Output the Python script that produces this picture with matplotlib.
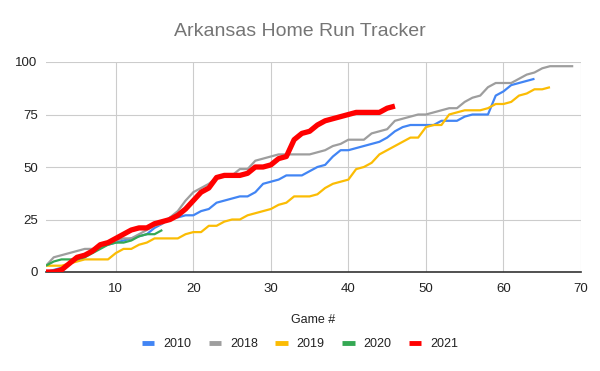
import numpy as np
import matplotlib
matplotlib.use("Agg")
import matplotlib.pyplot as plt

# Cumulative home runs by game
hr_2010 = [0, 1, 2, 4, 6, 8, 10, 12, 13, 14, 15, 16, 17, 18, 21, 23, 26, 26, 27, 27,
           29, 30, 33, 34, 35, 36, 36, 38, 42, 43, 44, 46, 46, 46, 48, 50, 51, 55, 58, 58,
           59, 60, 61, 62, 64, 67, 69, 70, 70, 70, 70, 72, 72, 72, 74, 75, 75, 75, 84, 86,
           89, 90, 91, 92]
hr_2018 = [3, 7, 8, 9, 10, 11, 11, 12, 14, 15, 16, 16, 18, 20, 22, 23, 26, 29, 34, 38,
           40, 42, 45, 46, 46, 49, 49, 53, 54, 55, 56, 56, 56, 56, 56, 57, 58, 60, 61, 63,
           63, 63, 66, 67, 68, 72, 73, 74, 75, 75, 76, 77, 78, 78, 81, 83, 84, 88, 90, 90,
           90, 92, 94, 95, 97, 98, 98, 98, 98]
hr_2019 = [3, 3, 3, 4, 5, 6, 6, 6, 6, 9, 11, 11, 13, 14, 16, 16, 16, 16, 18, 19,
           19, 22, 22, 24, 25, 25, 27, 28, 29, 30, 32, 33, 36, 36, 36, 37, 40, 42, 43, 44,
           49, 50, 52, 56, 58, 60, 62, 64, 64, 69, 70, 70, 75, 76, 77, 77, 77, 78, 80, 80,
           81, 84, 85, 87, 87, 88]
hr_2020 = [3, 5, 6, 6, 6, 7, 9, 11, 13, 14, 14, 15, 17, 18, 18, 20]
hr_2021 = [0, 0, 1, 4, 7, 8, 10, 13, 14, 16, 18, 20, 21, 21, 23, 24, 25, 27, 30, 34,
           38, 40, 45, 46, 46, 46, 47, 50, 50, 51, 54, 55, 63, 66, 67, 70, 72, 73, 74, 75,
           76, 76, 76, 76, 78, 79]

seasons = ["2010", "2018", "2019", "2020", "2021"]
series = [hr_2010, hr_2018, hr_2019, hr_2020, hr_2021]
colors = ["#4285F4", "#9E9E9E", "#FBBC04", "#34A853", "#FF0000"]
widths = [1.6, 1.6, 1.6, 1.6, 3.8]

plt.rcParams['font.family'] = ['Liberation Sans', 'DejaVu Sans']

fig = plt.figure(figsize=(6, 3.71), dpi=100)
ax = fig.add_axes([46 / 600, 1 - 272 / 371, 535 / 600, 210 / 371])

for name, vals, c, lw in zip(seasons, series, colors, widths):
    games = np.arange(1, len(vals) + 1)
    ax.plot(games, vals, color=c, lw=lw, label=name, solid_joinstyle="round",
            solid_capstyle="butt", zorder=3)

ax.set_xlim(1, 70)
ax.set_ylim(0, 100)
ax.set_xticks([10, 20, 30, 40, 50, 60, 70])
ax.set_yticks([0, 25, 50, 75, 100])
ax.grid(True, color="#CCCCCC", lw=0.8)
ax.set_axisbelow(True)
for s in ["top", "right", "left"]:
    ax.spines[s].set_visible(False)
ax.spines["bottom"].set_color("#333333")
ax.spines["bottom"].set_linewidth(1.2)
ax.tick_params(length=0, labelsize=9.5, colors="#222222")
ax.tick_params(axis="y", pad=6)
ax.tick_params(axis="x", pad=8)

fig.text(0.5, 1 - 32 / 371, "Arkansas Home Run Tracker", ha="center", va="center",
         fontsize=14, color="#757575")
fig.text(313 / 600, 1 - 320 / 371, "Game #", ha="center", va="center",
         fontsize=9, color="#222222")

leg = fig.legend(loc="center", bbox_to_anchor=(0.5, 1 - 344 / 371), ncol=5,
                 frameon=False, fontsize=9, handlelength=1.0, handletextpad=0.7,
                 columnspacing=1.4)
for h in leg.get_lines():
    h.set_linewidth(3.5)
for t in leg.get_texts():
    t.set_color("#222222")

plt.savefig("out.png", dpi=100)
